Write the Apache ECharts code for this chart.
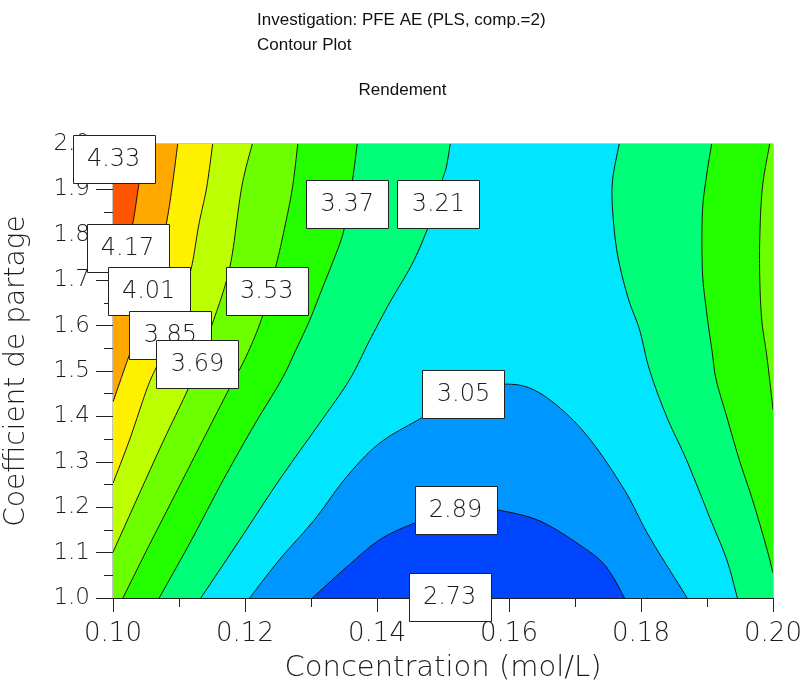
<!DOCTYPE html>
<html>
<head>
<meta charset="utf-8">
<script src="https://cdn.jsdelivr.net/npm/echarts/dist/echarts.min.js"></script>
<style>html,body{margin:0;padding:0;background:#fff}#chart{width:805px;height:683px}</style>
</head>
<body>
<div id="chart"></div>
<script>
// ---- axes ----
const xMin = 0.10, xMax = 0.20, xStep = 0.02;
const yMin = 1.0, yMax = 2.0, yStep = 0.1;
const xTickLabels = ['0.10', '0.12', '0.14', '0.16', '0.18', '0.20'];
const yTickLabels = ['1.0', '1.1', '1.2', '1.3', '1.4', '1.5', '1.6', '1.7', '1.8', '1.9', '2.0'];

// ---- contour levels (Rendement) ----
const levels = [2.73, 2.89, 3.05, 3.21, 3.37, 3.53, 3.69, 3.85, 4.01, 4.17, 4.33];

// ---- contour lines: [Concentration, Coefficient de partage] ----
const c273 = [[0.1455, 1.0], [0.1500, 1.018], [0.1545, 1.0]];
const c289 = [[0.1302, 1.0], [0.1354, 1.068], [0.1404, 1.128], [0.1457, 1.165], [0.1517, 1.194], [0.1550, 1.200], [0.1583, 1.194], [0.1646, 1.170], [0.1711, 1.113], [0.1747, 1.069], [0.1775, 1.0]];
const c305 = [[0.1207, 1.0], [0.1252, 1.084], [0.1305, 1.172], [0.1354, 1.267], [0.1404, 1.341], [0.1467, 1.396], [0.1533, 1.450], [0.1593, 1.471], [0.1646, 1.452], [0.1711, 1.370], [0.1772, 1.245], [0.1813, 1.134], [0.1870, 1.0]];
const c321L = [[0.1511, 2.0], [0.1505, 1.949], [0.1499, 1.921], [0.1489, 1.866], [0.1477, 1.815], [0.1454, 1.738], [0.1419, 1.650], [0.1389, 1.568], [0.1358, 1.480], [0.1313, 1.385], [0.1252, 1.260], [0.1192, 1.128], [0.1133, 1.0]];
const c321R = [[0.1767, 2.0], [0.1757, 1.921], [0.1757, 1.855], [0.1764, 1.760], [0.1780, 1.663], [0.1798, 1.590], [0.1813, 1.502], [0.1839, 1.399], [0.1869, 1.304], [0.1904, 1.178], [0.1930, 1.084], [0.1946, 1.0]];
const c337L = [[0.1370, 2.0], [0.1364, 1.932], [0.1357, 1.866], [0.1348, 1.800], [0.1333, 1.740], [0.1316, 1.678], [0.1298, 1.612], [0.1277, 1.546], [0.1255, 1.480], [0.1214, 1.381], [0.1167, 1.260], [0.1119, 1.128], [0.1070, 1.0]];
const c337R = [[0.1907, 2.0], [0.1899, 1.927], [0.1893, 1.848], [0.1893, 1.722], [0.1899, 1.634], [0.1908, 1.540], [0.1914, 1.480], [0.1930, 1.399], [0.1949, 1.304], [0.1969, 1.216], [0.1990, 1.112], [0.2000, 1.055]];
const c353L = [[0.1280, 2.0], [0.1272, 1.905], [0.1261, 1.822], [0.1248, 1.738], [0.1227, 1.623], [0.1202, 1.533], [0.1175, 1.458], [0.1131, 1.333], [0.1090, 1.216], [0.1052, 1.108], [0.1015, 1.0]];
const c353R = [[0.1995, 2.0], [0.1984, 1.905], [0.1980, 1.795], [0.1980, 1.700], [0.1983, 1.612], [0.1990, 1.540], [0.1995, 1.480], [0.2000, 1.414]];
const c369 = [[0.1211, 2.0], [0.1195, 1.905], [0.1181, 1.760], [0.1170, 1.689], [0.1151, 1.606], [0.1131, 1.524], [0.1113, 1.458], [0.1070, 1.326], [0.1000, 1.101]];
const c385 = [[0.1151, 2.0], [0.1142, 1.905], [0.1130, 1.822], [0.1119, 1.729], [0.1104, 1.656], [0.1086, 1.579], [0.1067, 1.513], [0.1052, 1.463], [0.1025, 1.348], [0.1000, 1.253]];
const c401 = [[0.1098, 2.0], [0.1090, 1.910], [0.1081, 1.826], [0.1067, 1.733], [0.1052, 1.656], [0.1036, 1.579], [0.1022, 1.524], [0.1000, 1.432]];
const c417 = [[0.1049, 2.0], [0.1039, 1.910], [0.1030, 1.826], [0.1019, 1.767], [0.1000, 1.700]];
const c433 = [[0.1019, 2.0], [0.1000, 1.938]];

// ---- contour value labels ----
const labelText = ['4.33', '4.17', '4.01', '3.85', '3.69', '3.53', '3.37', '3.21', '3.05', '2.89', '2.73'];
const labelX = [0.1001, 0.1022, 0.1054, 0.1087, 0.1128, 0.1233, 0.1355, 0.1493, 0.1531, 0.1519, 0.1510];
const labelY = [1.967, 1.771, 1.676, 1.579, 1.515, 1.676, 1.868, 1.868, 1.449, 1.194, 1.002];

// ---- band colours (low -> high) ----
const bandColors = {
  below273: '#0028FF', b273: '#0046FF', b289: '#0096FF', b305: '#00E6FF', b321: '#00FF78',
  b337: '#24FF00', b353: '#6CFF00', b369: '#BCFF00', b385: '#FFF000', b401: '#FFA800',
  b417: '#FF5500', b433: '#FF2200'
};

// corners of the plotting window (data units)
const BL = [xMin, yMin], BR = [xMax, yMin], TR = [xMax, yMax], TL = [xMin, yMax];

// each region: smooth contour part + straight edge part
const regions = [
  { line: [], edge: [BL, BR, TR, TL], color: bandColors.b289 },
  { line: c289, edge: [], color: bandColors.b273 },
  { line: c273, edge: [], color: bandColors.below273 },
  { line: c305, edge: [BR, TR, TL, BL], color: bandColors.b305 },
  { line: c321L, edge: [BL, TL], color: bandColors.b321 },
  { line: c321R, edge: [BR, TR], color: bandColors.b321 },
  { line: c337L, edge: [BL, TL], color: bandColors.b337 },
  { line: c337R, edge: [TR], color: bandColors.b337 },
  { line: c353L, edge: [BL, TL], color: bandColors.b353 },
  { line: c353R, edge: [TR], color: bandColors.b353 },
  { line: c369, edge: [TL], color: bandColors.b369 },
  { line: c385, edge: [TL], color: bandColors.b385 },
  { line: c401, edge: [TL], color: bandColors.b401 },
  { line: c417, edge: [TL], color: bandColors.b417 },
  { line: c433, edge: [TL], color: bandColors.b433 }
];
const contourLines = [c273, c289, c305, c321L, c321R, c337L, c337R, c353L, c353R, c369, c385, c401, c417, c433];

// drawing-level smoothing (Catmull-Rom through the projected pixel points)
function smoothPixels(px) {
  if (px.length < 3) return px.slice();
  const out = [];
  const n = px.length, steps = 10;
  for (let i = 0; i < n - 1; i++) {
    const p0 = px[Math.max(i - 1, 0)], p1 = px[i], p2 = px[i + 1], p3 = px[Math.min(i + 2, n - 1)];
    for (let s = 0; s < steps; s++) {
      const t = s / steps, t2 = t * t, t3 = t2 * t;
      const f = k => 0.5 * ((2 * p1[k]) + (-p0[k] + p2[k]) * t + (2 * p0[k] - 5 * p1[k] + 4 * p2[k] - p3[k]) * t2 + (-p0[k] + 3 * p1[k] - 3 * p2[k] + p3[k]) * t3);
      out.push([f(0), f(1)]);
    }
  }
  out.push(px[n - 1]);
  return out;
}

const tickFont = 'DejaVu Sans';
const txtColor = '#1c1c1c';
const chart = echarts.init(document.getElementById('chart'), null, { renderer: 'canvas' });

const series = [
  {
    type: 'custom', coordinateSystem: 'cartesian2d', clip: true, silent: true, z: 1,
    data: regions.map((r, i) => [xMin, yMin, i]),
    encode: { x: 0, y: 1 },
    renderItem: function (params, api) {
      const r = regions[api.value(2)];
      const pts = smoothPixels(r.line.map(p => api.coord(p))).concat(r.edge.map(p => api.coord(p)));
      return { type: 'polygon', shape: { points: pts }, style: { fill: r.color, stroke: r.color, lineWidth: 0.6 } };
    }
  },
  {
    type: 'custom', coordinateSystem: 'cartesian2d', clip: true, silent: true, z: 3,
    data: contourLines.map((l, i) => [xMin, yMin, i]),
    encode: { x: 0, y: 1 },
    renderItem: function (params, api) {
      const l = contourLines[api.value(2)];
      return { type: 'polyline', shape: { points: smoothPixels(l.map(p => api.coord(p))) },
               style: { fill: null, stroke: '#151515', lineWidth: 1 } };
    }
  },
  {
    type: 'custom', coordinateSystem: 'cartesian2d', clip: false, silent: true, z: 6,
    data: labelText.map((t, i) => [labelX[i], labelY[i], i]),
    encode: { x: 0, y: 1 },
    renderItem: function (params, api) {
      const i = api.value(2);
      const c = api.coord([api.value(0), api.value(1)]);
      const w = 82, h = 48;
      return {
        type: 'group',
        children: [
          { type: 'rect', z2: 2 * i,
            shape: { x: Math.round(c[0] - w / 2) + 0.5, y: Math.round(c[1] - h / 2) + 0.5, width: w, height: h },
            style: { fill: '#ffffff', stroke: '#222', lineWidth: 1 } },
          { type: 'text', z2: 2 * i + 1,
            style: { text: labelText[i], x: c[0], y: c[1] + 1, align: 'center', verticalAlign: 'middle',
                     fontSize: 24, fontWeight: 200, fontFamily: tickFont, fill: txtColor } }
        ]
      };
    }
  }
];

const titleStyle = { fontSize: 17, fontWeight: 'normal', fontFamily: 'Liberation Sans', color: '#111' };
const option = {
  animation: false,
  backgroundColor: '#ffffff',
  title: [
    { text: 'Investigation: PFE AE (PLS, comp.=2)', left: 257, top: 12, padding: 0, textStyle: titleStyle },
    { text: 'Contour Plot', left: 257, top: 37, padding: 0, textStyle: titleStyle },
    { text: 'Rendement', left: 'center', top: 82, padding: 0, textStyle: titleStyle }
  ],
  grid: {
    left: 113, right: 32, top: 144, bottom: 85,
    containLabel: false, outerBoundsMode: 'none',
    show: true, borderColor: '#888', borderWidth: 1, backgroundColor: 'transparent'
  },
  xAxis: {
    type: 'value', min: xMin, max: xMax, interval: xStep,
    name: 'Concentration (mol/L)', nameLocation: 'middle', nameGap: 56,
    nameTextStyle: { fontSize: 29, fontWeight: 200, fontFamily: tickFont, color: txtColor },
    axisLine: { show: true, onZero: false, lineStyle: { color: '#222', width: 1 } },
    axisTick: { show: true, inside: false, length: 14, lineStyle: { color: '#222', width: 1 } },
    minorTick: { show: true, splitNumber: 2, length: 9, lineStyle: { color: '#222', width: 1 } },
    splitLine: { show: false }, minorSplitLine: { show: false },
    axisLabel: { margin: 23, fontSize: 26, fontWeight: 200, fontFamily: tickFont, color: txtColor,
      formatter: v => xTickLabels[Math.round((v - xMin) / xStep)] }
  },
  yAxis: {
    type: 'value', min: yMin, max: yMax, interval: yStep,
    name: 'Coefficient de partage', nameLocation: 'middle', nameGap: 82, nameRotate: 90,
    nameTextStyle: { fontSize: 28, fontWeight: 200, fontFamily: tickFont, color: txtColor },
    axisLine: { show: true, onZero: false, lineStyle: { color: '#222', width: 1 } },
    axisTick: { show: true, inside: false, length: 17, lineStyle: { color: '#222', width: 1 } },
    minorTick: { show: true, splitNumber: 2, length: 9, lineStyle: { color: '#222', width: 1 } },
    splitLine: { show: false }, minorSplitLine: { show: false },
    axisLabel: { margin: 23, fontSize: 23, fontWeight: 200, fontFamily: tickFont, color: txtColor,
      formatter: v => yTickLabels[Math.round((v - yMin) / yStep)] }
  },
  series: series
};
chart.setOption(option);
</script>
</body>
</html>
